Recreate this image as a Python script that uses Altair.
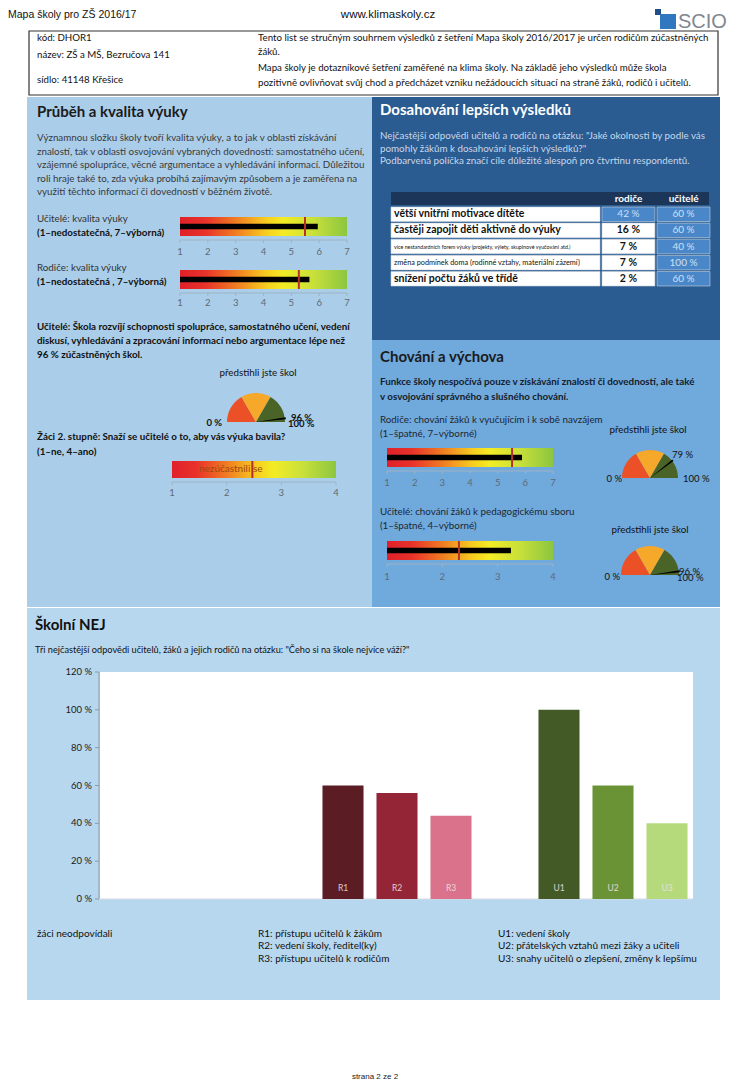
import math
import altair as alt
import pandas as pd

OX, OY = 8, 8          # page margin: reference pixel -> chart pixel
W, H = 734, 1075
FONT = "Lato"
HFONT = "Liberation Sans"

# ---------------- data ----------------
header_left = "Mapa školy pro ZŠ 2016/17"
header_mid = "www.klimaskoly.cz"
info_left = ["kód: DHOR1", "název: ZŠ a MŠ, Bezručova 141", "sídlo: 41148  Křešice"]
info_right = [
    "Tento list se stručným souhrnem výsledků z šetření Mapa školy 2016/2017 je určen rodičům zúčastněných",
    "žáků.",
    "Mapa školy je dotazníkové šetření zaměřené na klima školy. Na základě jeho výsledků může škola",
    "pozitivně ovlivňovat svůj chod a předcházet vzniku nežádoucích situací na straně žáků, rodičů i učitelů.",
]

quality_title = "Průběh a kvalita výuky"
quality_text = [
    "Významnou složku školy tvoří kvalita výuky, a to jak v oblasti získávání",
    "znalostí, tak v oblasti osvojování vybraných dovedností: samostatného učení,",
    "vzájemné spolupráce, věcné argumentace a vyhledávání informací. Důležitou",
    "roli hraje také to, zda výuka probíhá zajímavým způsobem a je zaměřena na",
    "využití těchto informací či dovedností v běžném životě.",
]
skills_text = [
    "Učitelé:  Škola rozvíjí schopnosti spolupráce, samostatného učení, vedení",
    "diskusí, vyhledávání a zpracování informací nebo argumentace lépe než",
    "96 % zúčastněných škol.",
]

scale7_ticks = [1, 2, 3, 4, 5, 6, 7]
scale4_ticks = [1, 2, 3, 4]

# school value (black bar) and marker (red line)
teach_quality, teach_quality_mark = 5.95, 5.49
par_quality, par_quality_mark = 5.65, 5.27
stud_fun_mark = 2.47
par_behav, par_behav_mark = 5.88, 5.52
teach_behav, teach_behav_mark = 3.24, 2.30

pct_skills = 96
pct_par_behav = 79
pct_teach_behav = 96

seg_names = ["low", "mid", "high"]
seg_start = [0, 33.34, 66.67]
seg_end = [33.34, 66.67, 100]
seg_colors = ["#ec5027", "#f6a82a", "#4a6326"]

results_title = "Dosahování lepších výsledků"
results_text = [
    "Nejčastější odpovědi učitelů a rodičů na otázku: \"Jaké okolnosti by podle vás",
    "pomohly žákům k dosahování lepších výsledků?\"",
    "Podbarvená políčka značí cíle důležité alespoň pro čtvrtinu respondentů.",
]
table_rows = [
    "větší vnitřní motivace dítěte",
    "častěji zapojit děti aktivně do výuky",
    "více nestandardních forem výuky (projekty, výlety, skupinové vyučování atd.)",
    "změna podmínek doma (rodinné vztahy, materiální zázemí)",
    "snížení počtu žáků ve třídě",
]
table_cols = ["rodiče", "učitelé"]
table_parents = [42, 16, 7, 7, 2]
table_teachers = [60, 60, 40, 100, 60]
bold_rows = [0, 1, 4]
tiny_rows = [2]
small_rows = [3]

behav_title = "Chování a výchova"
behav_text = [
    "Funkce školy nespočívá pouze v získávání znalostí či dovedností, ale také",
    "v osvojování správného a slušného chování.",
]

nej_title = "Školní NEJ"
nej_sub = "Tři nejčastější odpovědi učitelů, žáků a jejich rodičů na otázku: \"Čeho si na škole nejvíce váží?\""
nej_slots = ["Ž1", "Ž2", "Ž3", "-", "R1", "R2", "R3", "--", "U1", "U2", "U3"]
nej_cats = ["R1", "R2", "R3", "U1", "U2", "U3"]
nej_values = [60, 56, 44, 100, 60, 40]
nej_colors = ["#5b1c24", "#932536", "#d9728a", "#445a26", "#6a9336", "#b4da7c"]
nej_ticks = [0, 20, 40, 60, 80, 100, 120]
nej_legend_z = ["žáci neodpovídali"]
nej_legend_r = ["R1: přístupu učitelů k žákům", "R2: vedení školy, ředitel(ky)", "R3: přístupu učitelů k rodičům"]
nej_legend_u = ["U1: vedení školy", "U2: přátelských vztahů mezi žáky a učiteli", "U3: snahy učitelů o zlepšení, změny k lepšímu"]
footer = "strana 2 ze 2"

# ---------------- helpers ----------------
ONE = pd.DataFrame({"k": [0]})
BODY = 9.8
TITLE = 15

GRAD = {
    "gradient": "linear", "x1": 0, "x2": 1, "y1": 0, "y2": 0,
    "stops": [
        {"offset": 0.0, "color": "#df2029"},
        {"offset": 0.15, "color": "#e8322a"},
        {"offset": 0.33, "color": "#f07a22"},
        {"offset": 0.52, "color": "#f7cf1f"},
        {"offset": 0.62, "color": "#f3ec25"},
        {"offset": 0.8, "color": "#c8e03a"},
        {"offset": 1.0, "color": "#8cc640"},
    ],
}


def txt(s, x, y, size=BODY, color="#222222", weight="normal", align="left", font=FONT):
    return alt.Chart(ONE).mark_text(
        text=s, fontSize=size, color=color, fontWeight=weight, align=align,
        baseline="middle", font=font,
    ).encode(x=alt.value(x - OX), y=alt.value(y - OY))


def box(x0, y0, x1, y1, fill, stroke=None, sw=0):
    kw = {"fill": fill}
    if stroke:
        kw.update(stroke=stroke, strokeWidth=sw)
    return alt.Chart(ONE).mark_rect(**kw).encode(
        x=alt.value(x0 - OX), x2=alt.value(x1 - OX),
        y=alt.value(y0 - OY), y2=alt.value(y1 - OY))


def gauge(lo, hi, x0, x1, y0, y1, ticks, marker, value=None, tick_y=0, label_y=0):
    sc = alt.Scale(domain=[lo, hi], range=[x0 - OX, x1 - OX], nice=False, zero=False)
    span = pd.DataFrame({"lo": [lo], "hi": [hi]})
    cy = (y0 + y1) / 2
    parts = [
        alt.Chart(span).mark_rect(fill=GRAD).encode(
            x=alt.X("lo:Q", scale=sc, axis=None), x2="hi:Q",
            y=alt.value(y0 - OY), y2=alt.value(y1 - OY)),
    ]
    if value is not None:
        vd = pd.DataFrame({"lo": [lo], "v": [value]})
        parts.append(alt.Chart(vd).mark_rect(color="#000000").encode(
            x=alt.X("lo:Q", scale=sc, axis=None), x2="v:Q",
            y=alt.value(cy - 2.8 - OY), y2=alt.value(cy + 2.8 - OY)))
    md = pd.DataFrame({"m": [marker]})
    parts.append(alt.Chart(md).mark_rule(color="#b5302a", strokeWidth=2).encode(
        x=alt.X("m:Q", scale=sc, axis=None),
        y=alt.value(y0 - OY), y2=alt.value(y1 - OY)))
    parts.append(alt.Chart(span).mark_rule(color="#9eb3c4", strokeWidth=1).encode(
        x=alt.X("lo:Q", scale=sc, axis=None), x2="hi:Q", y=alt.value(tick_y - OY)))
    td = pd.DataFrame({"t": ticks})
    parts.append(alt.Chart(td).mark_rule(color="#9eb3c4", strokeWidth=1).encode(
        x=alt.X("t:Q", scale=sc, axis=None),
        y=alt.value(tick_y - OY), y2=alt.value(tick_y + 3 - OY)))
    parts.append(alt.Chart(td).mark_text(fontSize=9.5, color="#5f6a73", font=FONT, baseline="middle").encode(
        x=alt.X("t:Q", scale=sc, axis=None), y=alt.value(label_y - OY),
        text=alt.Text("t:Q", format="d")))
    return alt.layer(*parts)


def semi(cx, cy, r, pct):
    th = alt.Scale(domain=[0, 100], range=[-math.pi / 2, math.pi / 2])
    seg = pd.DataFrame({"s": seg_start, "e": seg_end, "k": seg_names})
    a = alt.Chart(seg).mark_arc(radius=r).encode(
        theta=alt.Theta("s:Q", scale=th, stack=None), theta2="e:Q",
        color=alt.Color("k:N", scale=alt.Scale(domain=seg_names, range=seg_colors), legend=None),
        x=alt.value(cx - OX), y=alt.value(cy - OY))
    nd = pd.DataFrame({"a": [pct - 1.0], "b": [pct + 1.0]})
    n = alt.Chart(nd).mark_arc(radius=r + 1, color="#000000").encode(
        theta=alt.Theta("a:Q", scale=th, stack=None), theta2="b:Q",
        x=alt.value(cx - OX), y=alt.value(cy - OY))
    return alt.layer(a, n)


L = []

# ---------------- header ----------------
L.append(txt(header_left, 8, 15, size=10.5, color="#111111", font=HFONT))
L.append(txt(header_mid, 388, 15, size=11.5, color="#111111", align="center", font=HFONT))
L.append(box(655, 9, 661, 15, "#1f4f85"))
L.append(box(660, 14, 676, 29, "#2f78c0"))
L.append(txt("SCIO", 678, 22, size=20, color="#80878f", font=HFONT))

# info box
L.append(box(29, 31, 718, 95, "#ffffff", "#333333", 1.2))
for s, y in zip(info_left, [38, 55, 80]):
    L.append(txt(s, 37, y, size=9.7, color="#111111"))
for s, y in zip(info_right, [38, 52, 68, 83]):
    L.append(txt(s, 258, y, size=9.7, color="#111111"))

# ---------------- panels ----------------
L.append(box(27, 97, 372, 607, "#aacde9"))
L.append(box(372, 97, 720, 340, "#2a5b91"))
L.append(box(372, 340, 720, 607, "#70a9dc"))
L.append(box(27, 608, 720, 1000, "#b7d7ef"))

# ---------------- left panel ----------------
L.append(txt(quality_title, 37, 112, size=TITLE, color="#1b1b1b", weight="bold"))
for s, y in zip(quality_text, [138, 152, 165, 179, 192]):
    L.append(txt(s, 37, y, color="#3a3a3a"))
L.append(txt("Učitelé: kvalita výuky", 37, 219, color="#333333"))
L.append(txt("(1–nedostatečná, 7–výborná)", 37, 233, color="#111111", weight="bold"))
L.append(gauge(1, 7, 180, 347, 217, 236, scale7_ticks, teach_quality_mark, teach_quality, 240, 252))
L.append(txt("Rodiče: kvalita výuky", 37, 268, color="#333333"))
L.append(txt("(1–nedostatečná , 7–výborná)", 37, 282, color="#111111", weight="bold"))
L.append(gauge(1, 7, 180, 347, 270, 289, scale7_ticks, par_quality_mark, par_quality, 293, 303))
for s, y in zip(skills_text, [327, 341, 355]):
    L.append(txt(s, 37, y, color="#111111", weight="bold"))
L.append(txt("předstihli jste škol", 258, 373, color="#111111", align="center"))
L.append(semi(256, 422, 29, pct_skills))
L.append(txt("0 %", 222, 423, size=9.5, color="#111111", align="right", weight="bold"))
L.append(txt(f"{pct_skills} %", 291, 418, size=9.5, color="#111111", weight="bold"))
L.append(txt("100 %", 288, 424, size=9.5, color="#111111", weight="bold"))
L.append(txt("Žáci 2. stupně:  Snaží se učitelé o to, aby vás výuka bavila?", 37, 437, color="#111111", weight="bold"))
L.append(txt("(1–ne, 4–ano)", 37, 452, color="#111111", weight="bold"))
L.append(gauge(1, 4, 172, 336, 461, 478, scale4_ticks, stud_fun_mark, None, 482, 493))
L.append(txt("nezúčastnili se", 199, 469, size=10, color="#9a4a10"))

# ---------------- right top panel ----------------
L.append(txt(results_title, 380, 110, size=TITLE, color="#ffffff", weight="bold"))
for s, y in zip(results_text, [136, 149, 161]):
    L.append(txt(s, 380, y, color="#c8d8ea"))

row_sc = alt.Scale(domain=table_rows, range=[207 - OY, 286 - OY], paddingInner=0.1, paddingOuter=0)
col_sc = alt.Scale(domain=table_cols, range=[602 - OX, 710 - OX], paddingInner=0.04, paddingOuter=0)
tab_long = pd.DataFrame({
    "row": table_rows * 2,
    "col": [table_cols[0]] * len(table_rows) + [table_cols[1]] * len(table_rows),
    "val": table_parents + table_teachers,
})
tab_long["lab"] = tab_long["val"].astype(str) + " %"
rows_df = pd.DataFrame({"row": table_rows, "idx": list(range(len(table_rows)))})
cols_df = pd.DataFrame({"col": table_cols})


def row_text(idxs, size, weight):
    return alt.Chart(rows_df).mark_text(
        color="#111111", font=FONT, fontWeight=weight, fontSize=size, align="left", baseline="middle"
    ).encode(
        x=alt.value(394 - OX), y=alt.Y("row:N", scale=row_sc, axis=None), text="row:N"
    ).transform_filter(alt.FieldOneOfPredicate(field="idx", oneOf=idxs))


table_parts = [
    alt.Chart(ONE).mark_rect(fill="#1b3659").encode(
        x=alt.value(391 - OX), x2=alt.value(709 - OX), y=alt.value(192 - OY), y2=alt.value(205 - OY)),
    alt.Chart(cols_df).mark_text(color="#ffffff", fontSize=10, font=FONT, fontWeight="bold", baseline="middle").encode(
        x=alt.X("col:N", scale=col_sc, axis=None), y=alt.value(199 - OY), text="col:N"),
    alt.Chart(rows_df).mark_rect(fill="#ffffff", stroke="#c9d3de", strokeWidth=0.6).encode(
        x=alt.value(391 - OX), x2=alt.value(600 - OX), y=alt.Y("row:N", scale=row_sc, axis=None)),
    alt.Chart(tab_long).mark_rect(stroke="#c9d3de", strokeWidth=0.6).encode(
        x=alt.X("col:N", scale=col_sc, axis=None), y=alt.Y("row:N", scale=row_sc, axis=None),
        fill=alt.condition("datum.val >= 25", alt.value("#4a87c9"), alt.value("#ffffff"))),
    row_text(bold_rows, 10.5, "bold"),
    row_text(tiny_rows, 5.3, "normal"),
    row_text(small_rows, 7.3, "normal"),
    alt.Chart(tab_long).mark_text(color="#cfe0f4", font=FONT, fontSize=10, baseline="middle").encode(
        x=alt.X("col:N", scale=col_sc, axis=None), y=alt.Y("row:N", scale=row_sc, axis=None),
        text="lab:N").transform_filter("datum.val >= 25"),
    alt.Chart(tab_long).mark_text(color="#111111", font=FONT, fontSize=10.5, fontWeight="bold", baseline="middle").encode(
        x=alt.X("col:N", scale=col_sc, axis=None), y=alt.Y("row:N", scale=row_sc, axis=None),
        text="lab:N").transform_filter("datum.val < 25"),
]
L.append(alt.layer(*table_parts))

# ---------------- right bottom panel ----------------
L.append(txt(behav_title, 380, 357, size=TITLE, color="#1b1b1b", weight="bold"))
for s, y in zip(behav_text, [382, 397]):
    L.append(txt(s, 380, y, color="#15202b", weight="bold"))
L.append(txt("Rodiče: chování žáků k vyučujícím i k sobě navzájem", 380, 420, color="#1d2731"))
L.append(txt("(1–špatné, 7–výborné)", 380, 434, color="#1d2731"))
L.append(txt("předstihli jste škol", 648, 430, color="#111111", align="center"))
L.append(gauge(1, 7, 387, 553, 448, 467, scale7_ticks, par_behav_mark, par_behav, 471, 483))
L.append(semi(650, 478, 28, pct_par_behav))
L.append(txt("0 %", 622, 479, size=9.5, color="#111111", align="right"))
L.append(txt(f"{pct_par_behav} %", 672, 455, size=9.5, color="#111111"))
L.append(txt("100 %", 683, 479, size=9.5, color="#111111"))

L.append(txt("Učitelé: chování žáků k pedagogickému sboru", 380, 512, color="#1d2731"))
L.append(txt("(1–špatné, 4–výborné)", 380, 526, color="#1d2731"))
L.append(txt("předstihli jste škol", 650, 530, color="#111111", align="center"))
L.append(gauge(1, 4, 387, 553, 541, 560, scale4_ticks, teach_behav_mark, teach_behav, 564, 577))
L.append(semi(650, 575, 29, pct_teach_behav))
L.append(txt("0 %", 620, 577, size=9.5, color="#111111", align="right"))
L.append(txt(f"{pct_teach_behav} %", 679, 572, size=9.5, color="#111111"))
L.append(txt("100 %", 677, 578, size=9.5, color="#111111"))

# ---------------- bottom panel: Školní NEJ ----------------
L.append(txt(nej_title, 35, 625, size=TITLE, color="#111111", weight="bold"))
L.append(txt(nej_sub, 35, 650, size=9.2, color="#111111"))

xs = alt.Scale(domain=nej_slots, range=[100 - OX, 694 - OX], paddingInner=0.24, paddingOuter=0.12)
ys = alt.Scale(domain=[0, 120], range=[899 - OY, 672 - OY], nice=False, zero=True)
nej_df = pd.DataFrame({"cat": nej_cats, "val": nej_values})
tick_df = pd.DataFrame({"t": nej_ticks, "lab": [f"{t} %" for t in nej_ticks]})
span_df = pd.DataFrame({"lo": [0], "hi": [120]})
nej_parts = [
    alt.Chart(ONE).mark_rect(fill="#ffffff").encode(
        x=alt.value(100 - OX), x2=alt.value(693 - OX), y=alt.value(672 - OY), y2=alt.value(899 - OY)),
    alt.Chart(span_df).mark_rule(color="#8c9aa6", strokeWidth=1).encode(
        x=alt.value(99 - OX), y=alt.Y("lo:Q", scale=ys, axis=None), y2="hi:Q"),
    alt.Chart(span_df).mark_rule(color="#d5dde4", strokeWidth=1).encode(
        x=alt.value(99 - OX), x2=alt.value(693 - OX), y=alt.Y("lo:Q", scale=ys, axis=None)),
    alt.Chart(tick_df).mark_rule(color="#8c9aa6", strokeWidth=1).encode(
        x=alt.value(95 - OX), x2=alt.value(99 - OX), y=alt.Y("t:Q", scale=ys, axis=None)),
    alt.Chart(tick_df).mark_text(fontSize=9.5, color="#1a1a1a", font=FONT, align="right", baseline="middle").encode(
        x=alt.value(92 - OX), y=alt.Y("t:Q", scale=ys, axis=None), text="lab:N"),
    alt.Chart(nej_df).mark_bar().encode(
        x=alt.X("cat:N", scale=xs, axis=None), y=alt.Y("val:Q", scale=ys, axis=None),
        color=alt.Color("cat:N", scale=alt.Scale(domain=nej_cats, range=nej_colors), legend=None)),
    alt.Chart(nej_df).mark_text(fontSize=8.5, color="#f2e4e8", font=FONT, baseline="middle", opacity=0.85).encode(
        x=alt.X("cat:N", scale=xs, axis=None), y=alt.value(888 - OY), text="cat:N"),
]
L.append(alt.layer(*nej_parts))

for s, y in zip(nej_legend_z, [934]):
    L.append(txt(s, 37, y, size=10, color="#111111"))
for s, y in zip(nej_legend_r, [934, 946, 959]):
    L.append(txt(s, 258, y, size=10, color="#111111"))
for s, y in zip(nej_legend_u, [934, 946, 959]):
    L.append(txt(s, 498, y, size=10, color="#111111"))

L.append(txt(footer, 375, 1077, size=8, color="#222222", align="center", font=HFONT))

chart = alt.layer(*L).resolve_scale(
    x="independent", y="independent", color="independent", theta="independent"
).properties(
    width=W, height=H, autosize=alt.AutoSizeParams(type="none"), padding=0
).configure_view(stroke=None)

chart.save("out.html", embed_options={"renderer": "svg", "actions": False})
